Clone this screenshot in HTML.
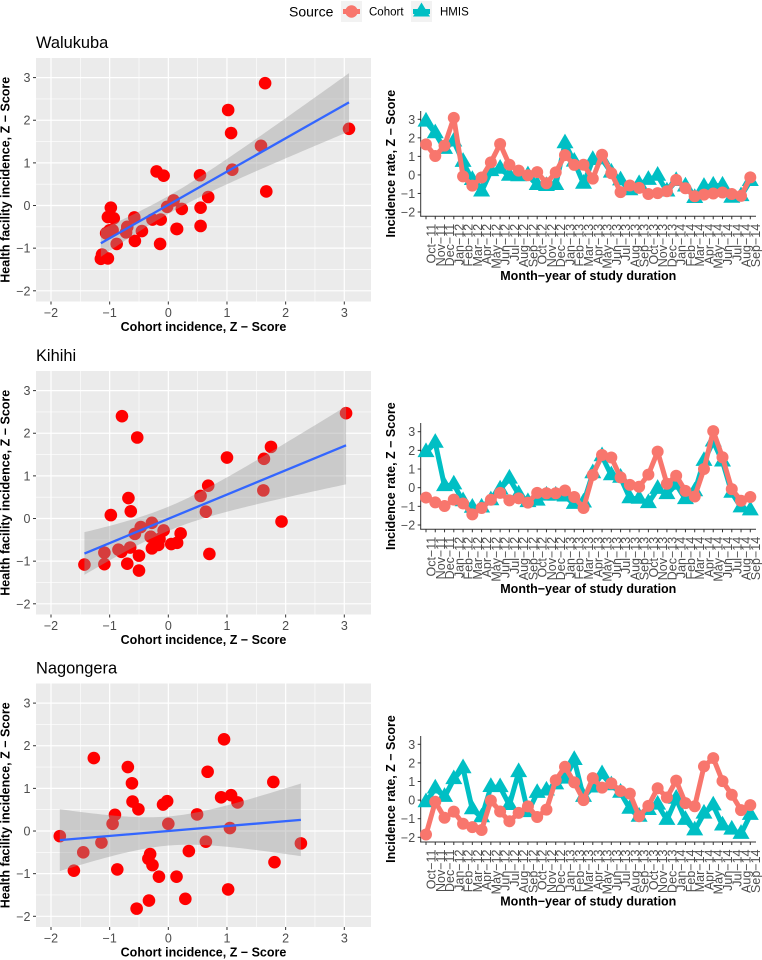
<!DOCTYPE html>
<html lang="en">
<head>
<meta charset="utf-8">
<title>Health facility vs cohort incidence</title>
<style>
html,body{margin:0;padding:0;background:#fff;}
svg{display:block;font-family:"Liberation Sans",Arial,sans-serif;}
</style>
</head>
<body>
<svg id="chart" xmlns="http://www.w3.org/2000/svg" width="762" height="960" viewBox="0 0 762 960">
  <g>
    <text x="289" y="16.5" font-size="14">Source</text>
    <rect x="341" y="1" width="21" height="21" fill="#f2f2f2"/>
    <line x1="343" y1="11.5" x2="360" y2="11.5" stroke="#F8766D" stroke-width="5"/>
    <circle cx="351.5" cy="11.5" r="6.2" fill="#F8766D"/>
    <text x="369" y="15.5" font-size="11.5">Cohort</text>
    <rect x="411" y="1" width="21" height="21" fill="#f2f2f2"/>
    <line x1="413" y1="11.5" x2="430" y2="11.5" stroke="#00BFC4" stroke-width="5"/>
    <polygon points="421.5,2.5 430,16.5 413,16.5" fill="#00BFC4"/>
    <text x="440" y="15.5" font-size="11.5">HMIS</text>
  </g>
</svg>
<script>
const months = ["Oct−11","Nov−11","Dec−11","Jan−12","Feb−12","Mar−12","Apr−12","May−12","Jun−12","Jul−12","Aug−12","Sep−12","Oct−12","Nov−12","Dec−12","Jan−13","Feb−13","Mar−13","Apr−13","May−13","Jun−13","Jul−13","Aug−13","Sep−13","Oct−13","Nov−13","Dec−13","Jan−14","Feb−14","Mar−14","Apr−14","May−14","Jun−14","Jul−14","Aug−14","Sep−14"];
const walukubaCohort = [1.65,1.02,1.58,3.08,-0.08,-0.58,-0.14,0.68,1.67,0.55,0.23,-0.02,0.15,-0.45,0.14,1.07,0.54,0.55,-0.2,1.09,0.09,-0.93,-0.57,-0.7,-1.03,-0.98,-0.88,-0.27,-0.72,-1.15,-1.06,-1.0,-0.95,-1.03,-1.13,-0.13];
const walukubaHmis = [2.87,2.24,1.4,1.8,0.7,-0.28,-0.9,0.2,0.33,-0.05,-0.08,-0.03,-0.55,-0.6,-0.55,1.7,0.71,-0.48,0.8,0.84,0.12,-0.3,-0.83,-0.5,-0.27,-0.05,-0.9,-0.33,-0.63,-1.25,-0.65,-0.58,-0.58,-1.24,-1.15,-0.33];
const kihihiCohort = [-0.53,-0.79,-0.98,-0.64,-0.85,-1.43,-1.09,-0.65,-0.28,-0.68,-0.57,-0.8,-0.28,-0.3,-0.3,-0.15,-0.5,-1.09,0.68,1.75,1.62,0.55,0.15,0.05,0.7,1.93,0.21,0.64,-0.17,-0.47,1.0,3.03,1.63,-0.08,-0.7,-0.5];
const kihihiHmis = [1.9,2.4,0.08,0.17,-0.73,-1.08,-1.07,-0.68,-0.1,0.48,-0.36,-0.78,-0.7,-0.43,-0.43,-0.48,-0.87,-0.8,0.77,1.68,0.66,0.53,-0.57,-0.6,-0.83,-0.07,-0.35,0.16,-0.62,-0.2,1.43,2.47,1.4,-0.28,-1.06,-1.22];
const nagongeraCohort = [-1.85,-0.09,-0.95,-0.62,-1.27,-1.45,-1.61,-0.02,-0.61,-1.14,-0.69,-0.34,-0.91,-0.51,1.07,1.79,0.95,0,1.18,0.67,0.9,0.49,0.35,-0.87,-0.31,0.64,0.14,1.05,-0.16,-0.33,1.81,2.26,1.02,0.29,-0.54,-0.27];
const nagongeraHmis = [-0.12,0.62,0.17,1.12,1.71,-0.5,-0.93,0.7,0.69,-0.27,1.5,-0.65,0.38,0.51,0.84,1.15,2.15,0.17,0.67,1.39,0.79,0.39,-0.47,-0.9,-0.54,-0.25,-1.07,0.07,-1.07,-1.63,-0.73,-0.29,-1.37,-1.59,-1.82,-0.8];
const scatterXTicks = [-2,-1,0,1,2,3];
const scatterYTicks = [-2,-1,0,1,2,3];
const seriesYTicks = [-2,-1,0,1,2,3];
const minorTicks = [-1.5,-0.5,0.5,1.5,2.5];
const siteNames = ["Walukuba","Kihihi","Nagongera"];
const siteCohort = [walukubaCohort,kihihiCohort,nagongeraCohort];
const siteHmis = [walukubaHmis,kihihiHmis,nagongeraHmis];

const NS = "http://www.w3.org/2000/svg";
const svg = document.getElementById("chart");
const TICK_GREY = "#4d4d4d";
const TICK_SIZE = 12.5;
const TITLE_SIZE = 12.5;
const T_CRIT = 2.032;

function make(parent, tag, attrs, text) {
  const n = document.createElementNS(NS, tag);
  for (const k in attrs) n.setAttribute(k, attrs[k]);
  if (text !== undefined) n.textContent = text;
  parent.appendChild(n);
  return n;
}
function linearScale(v0, p0, v1, p1) {
  return v => p0 + (v - v0) * (p1 - p0) / (v1 - v0);
}
function fmt(v) { return v < 0 ? "−" + Math.abs(v) : String(v); }
function slug(s) { return s.toLowerCase(); }

function regression(xs, ys) {
  const n = xs.length;
  const mx = xs.reduce((a, b) => a + b, 0) / n;
  const my = ys.reduce((a, b) => a + b, 0) / n;
  let sxx = 0, sxy = 0;
  xs.forEach((x, i) => { sxx += (x - mx) * (x - mx); sxy += (x - mx) * (ys[i] - my); });
  const b = sxy / sxx, a = my - b * mx;
  let sse = 0;
  xs.forEach((x, i) => { const r = ys[i] - a - b * x; sse += r * r; });
  const s = Math.sqrt(sse / (n - 2));
  return {
    fit: x => a + b * x,
    half: x => T_CRIT * s * Math.sqrt(1 / n + (x - mx) * (x - mx) / sxx)
  };
}

function drawScatter(siteIndex, top) {
  const name = siteNames[siteIndex];
  const cohort = siteCohort[siteIndex];
  const hmis = siteHmis[siteIndex];
  const left = 36, right = 371, height = 243.5, bottom = top + height;
  const sx = linearScale(-2, 51, 3, 344.3);
  const sy = linearScale(3, top + 19.6, -2, top + 232.8);

  const g = make(svg, "g", {});
  
  

  const title = make(g, "text", {x: left, y: top - 10, "font-size": 16.4, fill: "#000"}, name);
  
  

  const bg = make(g, "rect", {x: left, y: top, width: right - left, height: height, fill: "#ebebeb"});
  
  

  minorTicks.forEach(t => {
    const v = make(g, "line", {x1: sx(t), x2: sx(t), y1: top, y2: bottom, stroke: "#fff", "stroke-width": 0.6});
    
    
    const h = make(g, "line", {x1: left, x2: right, y1: sy(t), y2: sy(t), stroke: "#fff", "stroke-width": 0.6});
    
    
  });
  scatterXTicks.forEach(t => {
    const v = make(g, "line", {x1: sx(t), x2: sx(t), y1: top, y2: bottom, stroke: "#fff", "stroke-width": 1.2});
    
    
    const tick = make(g, "line", {x1: sx(t), x2: sx(t), y1: bottom, y2: bottom + 3, stroke: "#333", "stroke-width": 1});
    
    
    const lab = make(g, "text", {x: sx(t), y: bottom + 15.5, "font-size": TICK_SIZE, fill: TICK_GREY, "text-anchor": "middle"}, fmt(t));
    
    
  });
  scatterYTicks.forEach(t => {
    const h = make(g, "line", {x1: left, x2: right, y1: sy(t), y2: sy(t), stroke: "#fff", "stroke-width": 1.2});
    
    
    const tick = make(g, "line", {x1: left - 3, x2: left, y1: sy(t), y2: sy(t), stroke: "#333", "stroke-width": 1});
    
    
    const lab = make(g, "text", {x: left - 5.5, y: sy(t) + 4.5, "font-size": TICK_SIZE, fill: TICK_GREY, "text-anchor": "end"}, fmt(t));
    
    
  });

  cohort.forEach((x, i) => {
    const c = make(g, "circle", {cx: sx(x), cy: sy(hmis[i]), r: 6.3, fill: "#ff0000"});
    
    
  });

  const reg = regression(cohort, hmis);
  const xMin = Math.min.apply(null, cohort), xMax = Math.max.apply(null, cohort);
  const upper = [], lower = [];
  const steps = 80;
  for (let k = 0; k <= steps; k++) {
    const x = xMin + (xMax - xMin) * k / steps;
    upper.push(sx(x).toFixed(2) + "," + sy(reg.fit(x) + reg.half(x)).toFixed(2));
    lower.unshift(sx(x).toFixed(2) + "," + sy(reg.fit(x) - reg.half(x)).toFixed(2));
  }
  const band = make(g, "polygon", {points: upper.concat(lower).join(" "), fill: "#999999", "fill-opacity": 0.4});
  
  

  const fitLine = make(g, "line", {x1: sx(xMin), y1: sy(reg.fit(xMin)), x2: sx(xMax), y2: sy(reg.fit(xMax)), stroke: "#3366FF", "stroke-width": 2.3});
  
  

  const xt = make(g, "text", {x: 203.5, y: bottom + 29.5, "font-size": TITLE_SIZE, "font-weight": "bold", "text-anchor": "middle"}, "Cohort incidence, Z − Score");
  
  

  const cy = top + height / 2;
  const yt = make(g, "text", {x: 9.5, y: cy, "font-size": TITLE_SIZE, "font-weight": "bold", "text-anchor": "middle", transform: "rotate(-90 9.5 " + cy + ")"}, "Health facility incidence, Z − Score");
  
  
}

function drawSeries(siteIndex, axisTop, axisBottom, y3, yMinus2) {
  const name = siteNames[siteIndex];
  const cohort = siteCohort[siteIndex];
  const hmis = siteHmis[siteIndex];
  const left = 420.7, right = 756;
  const sx = linearScale(0, 426, months.length - 1, 750.3);
  const sy = linearScale(3, y3, -2, yMinus2);

  const g = make(svg, "g", {});
  
  

  const yAxis = make(g, "line", {x1: left, x2: left, y1: axisTop, y2: axisBottom, stroke: "#333", "stroke-width": 1});
  
  
  const xAxis = make(g, "line", {x1: left - 0.5, x2: right, y1: axisBottom, y2: axisBottom, stroke: "#333", "stroke-width": 1});
  
  

  seriesYTicks.forEach(t => {
    const tick = make(g, "line", {x1: left - 3, x2: left, y1: sy(t), y2: sy(t), stroke: "#333", "stroke-width": 1});
    
    
    const lab = make(g, "text", {x: left - 5.5, y: sy(t) + 4.5, "font-size": TICK_SIZE, fill: TICK_GREY, "text-anchor": "end"}, fmt(t));
    
    
  });
  months.forEach((m, i) => {
    const tick = make(g, "line", {x1: sx(i), x2: sx(i), y1: axisBottom, y2: axisBottom + 3, stroke: "#333", "stroke-width": 1});
    
    
    const bx = sx(i) + 9.5, by = axisBottom + 7.5;
    const lab = make(g, "text", {x: bx, y: by, "font-size": TICK_SIZE, fill: TICK_GREY, "text-anchor": "end", transform: "rotate(-90 " + bx + " " + by + ")"}, m);
    
    
  });

  const hPts = hmis.map((v, i) => sx(i).toFixed(2) + "," + sy(v).toFixed(2)).join(" ");
  const hLine = make(g, "polyline", {points: hPts, fill: "none", stroke: "#00BFC4", "stroke-width": 5, "stroke-linejoin": "round"});
  
  
  hmis.forEach((v, i) => {
    const x = sx(i), y = sy(v);
    const tri = make(g, "polygon", {points: x + "," + (y - 9.8) + " " + (x + 8.5) + "," + (y + 4.9) + " " + (x - 8.5) + "," + (y + 4.9), fill: "#00BFC4"});
    
    
  });

  const cPts = cohort.map((v, i) => sx(i).toFixed(2) + "," + sy(v).toFixed(2)).join(" ");
  const cLine = make(g, "polyline", {points: cPts, fill: "none", stroke: "#F8766D", "stroke-width": 5, "stroke-linejoin": "round"});
  
  
  cohort.forEach((v, i) => {
    const c = make(g, "circle", {cx: sx(i), cy: sy(v), r: 6, fill: "#F8766D"});
    
    
  });

  const xt = make(g, "text", {x: 588.3, y: axisBottom + 63.6, "font-size": TITLE_SIZE, "font-weight": "bold", "text-anchor": "middle"}, "Month−year of study duration");
  
  

  const cy = (axisTop + axisBottom) / 2;
  const yt = make(g, "text", {x: 395, y: cy, "font-size": TITLE_SIZE, "font-weight": "bold", "text-anchor": "middle", transform: "rotate(-90 395 " + cy + ")"}, "Incidence rate, Z − Score");
  
  
}

drawScatter(0, 58);
drawScatter(1, 371);
drawScatter(2, 683.5);
drawSeries(0, 111, 216.3, 119.3, 212);
drawSeries(1, 423, 529.3, 431.7, 525);
drawSeries(2, 736, 842, 744.3, 837.3);
</script>
</body>
</html>
